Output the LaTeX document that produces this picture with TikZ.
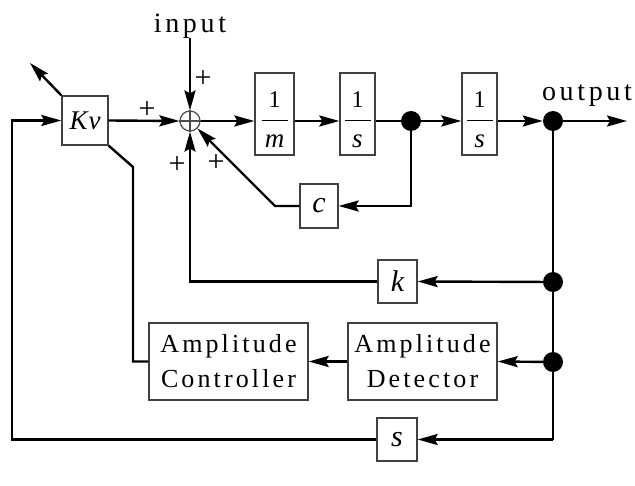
\RequirePackage{fix-cm}
\documentclass[tikz,border=0pt]{standalone}
\usepackage{amsmath}
\usepackage{fontspec}
\setmainfont{Liberation Serif}
\usepackage{tikz}
\usetikzlibrary{arrows.meta}
\usetikzlibrary{calc}
\tikzset{
  every node/.style = {font = \fontsize{22}{26}\selectfont}
}
\tikzset{
    >={Stealth[length=20pt,width=11pt,inset=3pt]}
}
\tikzset{
  blk/.style  = {draw=black!75, line width=1.3pt, inner sep=0pt, fill=white},
  big/.style  = {font=\fontsize{30}{32}\selectfont\itshape},
  sig/.style  = {line width=2.4pt},
  word/.style = {font=\fontsize{26}{35}\selectfont\addfontfeature{LetterSpace=12},
                 align=center, inner sep=0pt},
  io/.style   = {font=\fontsize{28}{30}\selectfont\addfontfeature{LetterSpace=13},
                 inner sep=0pt},
  dot/.style  = {circle, fill=black, inner sep=0pt, minimum size=20pt},
  plus/.style = {inner sep=0pt, font=\fontsize{30}{32}\selectfont}
}
% fraction inside a block, bar kept on the signal line
\newcommand{\blkfrac}[1]{\rule{0pt}{46pt}$\dfrac{\makebox[26pt]{\fontsize{24}{26}\selectfont 1}\rule[-10pt]{0pt}{10pt}}{\rule{0pt}{24pt}\text{\fontsize{27}{28}\selectfont\itshape #1}}$}

\begin{document}
\begin{tikzpicture}[x=1pt,y=-1pt]
\useasboundingbox (0,0) rectangle (635,486);

% Blocks
\node[blk, minimum width=46pt, minimum height=49pt, font=\fontsize{27}{30}\selectfont\itshape] (kv) at (85,120.5) {K\kern1pt v};
\node[circle, draw=black!70, line width=1.2pt, minimum size=20pt, inner sep=0pt] (sum) at (190,121) {};
\draw[black!70, line width=1.2pt] (sum.north) -- (sum.south) (sum.west) -- (sum.east);
\node[blk, minimum width=39pt, minimum height=82pt] (m) at (274.5,114) {\blkfrac{m}};
\node[blk, minimum width=35pt, minimum height=82pt] (s1) at (357.5,114) {\blkfrac{s}};
\node[blk, minimum width=35pt, minimum height=82pt] (s2) at (479.5,114) {\blkfrac{s}};
\node[blk, big, minimum width=38pt, minimum height=44pt] (c) at (319,206) {c};
\node[blk, big, minimum width=39pt, minimum height=43pt] (k) at (397.5,281.5) {k};
\node[blk, word, minimum width=159pt, minimum height=77pt] (ctrl) at (228.5,361.5) {Amplitude\\Controller};
\node[blk, word, minimum width=149pt, minimum height=77pt] (det) at (422.5,361.5) {Amplitude\\Detector};
\node[blk, big, minimum width=40pt, minimum height=43pt] (s) at (397,439.5) {s};

% Branch points
\node[dot] (j1) at (411,121) {};
\node[dot] (jo) at (553,121) {};
\node[dot] (jk) at (553,282) {};
\node[dot] (jd) at (553,362) {};

% Labels
\node[io] (inlbl) at (190,26) {input};
\node[io] (outlbl) at (587,96) {output};
\node[plus] (plusin) at (203,79) {+};
\node[plus] (pluskv) at (147,110) {+};
\node[plus] (plusk) at (177,165) {+};
\node[plus] (plusc) at (216,163) {+};

% Bends
\coordinate (out) at (627,121);
\coordinate (cbend) at (275,206);
\coordinate (kvbend) at (133,167);
\coordinate (kvtip) at (30,63);
\coordinate (rb) at (553,439.5);
\coordinate (lt) at (12,120.5);

% Forward path
\draw[sig,->] (inlbl.south) -- (sum.north);
\draw[sig,->] (kv.east) -- (sum.west);
\draw[sig,->] (sum.east) -- (sum.east -| m.west);
\draw[sig,->] (sum.east -| m.east) -- (sum.east -| s1.west);
\draw[sig] (sum.east -| s1.east) -- (j1);
\draw[sig,->] (j1) -- (j1 -| s2.west);
\draw[sig,->] (j1 -| s2.east) -- (jo);
\draw[sig,->] (jo) -- (out);

% Feedback loops
\draw[sig,->] (j1) |- (c.east);
\draw[sig,->] (c.west) -- (cbend) -- (sum.south east);
\draw[sig] (jo) -- (rb);
\draw[sig,->] (jk) -- (k.east);
\draw[sig,->] (k.west) -| (sum.south);
\draw[sig,->] (jd) -- (det.east);
\draw[sig,->] (det.west) -- (ctrl.east);
\draw[sig] (ctrl.west) -| (kvbend) -- (kv.south east);
\draw[sig,->] (kv.north west) -- (kvtip);
\draw[sig,->] (rb) -- (s.east);
\draw[sig,->] (s.west) -| (lt) -- (kv.west);
\end{tikzpicture}
\end{document}
